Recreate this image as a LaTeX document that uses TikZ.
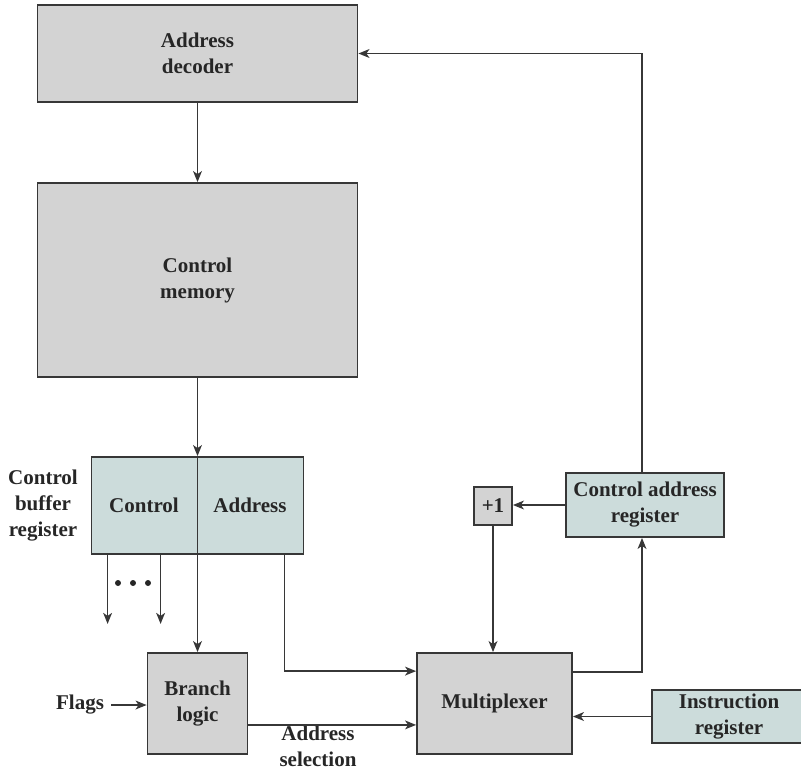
\documentclass[tikz,border=0pt]{standalone}
\usepackage{fontspec}
\setmainfont{Liberation Serif}
\usetikzlibrary{arrows.meta, positioning, calc}
\definecolor{blockgray}{RGB}{211,211,211}
\definecolor{regteal}{RGB}{204,220,219}
\definecolor{edgegray}{RGB}{55,55,55}

\begin{document}
\begin{tikzpicture}[
  x=0.5pt, y=-0.5pt,
  every node/.style={font=\fontsize{10.5}{13}\selectfont\bfseries, text=black!85},
  block/.style={
    draw=edgegray, line width=0.9pt, fill=blockgray,
    align=center, inner sep=0pt
  },
  reg/.style={block, fill=regteal},
  label/.style={align=center, inner sep=0pt},
  arrow/.style={-{Stealth[length=5.5pt, width=4.4pt, inset=1.5pt]}, line width=0.8pt, color=edgegray},
  wire/.style={line width=0.8pt, color=edgegray}
]
  \useasboundingbox (0,0) rectangle (801,771);

  % Blocchi a sinistra (colonna centrale)
  \node[block, minimum width=160pt, minimum height=48.5pt] (dec) at (197.5,53.5) {Address\\decoder};
  \node[block, minimum width=160pt, minimum height=97pt] (mem) at (197.5,280) {Control\\memory};
  \node[reg, minimum width=106pt, minimum height=48.5pt] (cbr) at (197.5,505.5) {};
  \node[label] (ctrl) at (144,505) {Control};
  \node[label] (addr) at (250,505) {Address};
  \node[label] (cbrname) at (43,506) {Control\\buffer\\register};
  \node[block, minimum width=50pt, minimum height=50.5pt] (branch) at (197.5,703.5) {Branch\\logic};
  \node[label] (flags) at (80,705) {Flags};
  \node[label] (sel) at (318,746) {Address\\selection};

  % Blocchi a destra
  \node[block, minimum width=77.5pt, minimum height=50.5pt] (mux) at (494.5,703.5) {Multiplexer};
  \node[block, minimum width=19pt, minimum height=19pt] (plus) at (493,506) {+1};
  \node[reg, minimum width=79pt, minimum height=32pt] (car) at (645,505) {Control address\\register};
  \node[reg, minimum width=77pt, minimum height=26.5pt] (ir) at (729,716.5) {Instruction\\register};

  % Uscite di controllo
  \coordinate (out1) at ($(cbr.south west)+(17,69)$);
  \coordinate (out2) at ($(cbr.south west)+(70,69)$);
  \draw[arrow] ($(cbr.south west)+(17,0)$) -- (out1);
  \draw[arrow] ($(cbr.south west)+(70,0)$) -- (out2);
  \foreach \dx in {118,133,148}
    \fill[black!85] (\dx,583) circle (3);

  % Frecce verticali principali
  \draw[arrow] (dec) -- (mem);
  \draw[arrow] (mem) -- (cbr);
  \draw[arrow] (cbr.north) -- (branch.north);
  \draw[arrow] ([xshift=3.5pt]flags.east) -- (flags.east -| branch.west);

  % Campo indirizzo e selezione verso il multiplexer
  \draw[arrow] ($(cbr.south east)+(-20,0)$) |- ($(mux.north west)+(0,19)$);
  \draw[arrow] ($(branch.south east)+(0,-30)$) -- ($(mux.south west)+(0,-30)$);
  \draw[arrow] (ir.west) -- (ir.west -| mux.east);

  % Anello del registro indirizzo
  \draw[arrow] ($(mux.north east)+(0,20)$) -| ([xshift=-1.5pt]car.south);
  \draw[arrow] (car.west) -- (car.west -| plus.east);
  \draw[arrow] (plus.south) -- (plus.south |- mux.north);
  \draw[arrow] ([xshift=-1.5pt]car.north) |- (dec.east);

\end{tikzpicture}
\end{document}
